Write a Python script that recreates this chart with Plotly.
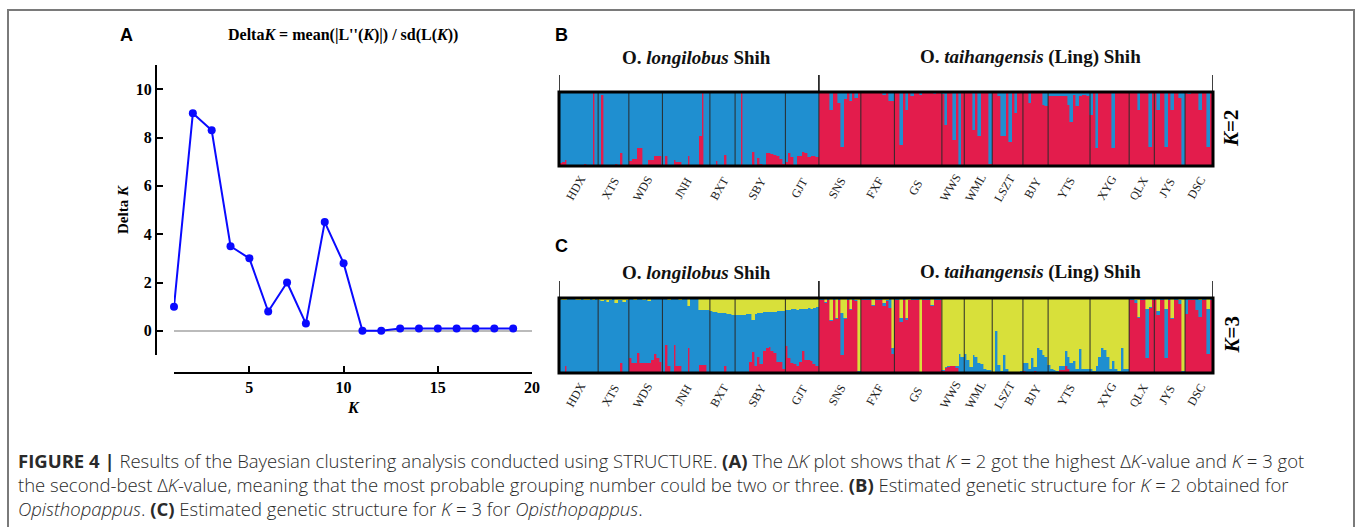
import plotly.graph_objects as go

W, H = 1358, 527

# ---------------- Panel A data ----------------
K_VALUES = list(range(1, 20))
DELTA_K = [1.0, 9.0, 8.3, 3.5, 3.0, 0.8, 2.0, 0.3, 4.5, 2.8,
           0.0, 0.0, 0.1, 0.1, 0.1, 0.1, 0.1, 0.1, 0.1]

# ---------------- Populations ----------------
POPS_LONG = ["HDX", "XTS", "WDS", "JNH", "BXT", "SBY", "GJT"]
POPS_TAI = ["SNS", "FXF", "GS", "WWS", "WML", "LSZT", "BJY", "YTS", "XYG", "QLX", "JYS", "DSC"]

# ---------------- K = 2 ----------------
# O. longilobus: share of the red cluster per individual (rest blue)
K2_RED_HDX = [0.04, 0.06, 0.08, 0.02, 0.02, 0.02, 0.01, 0.01, 0.02, 0.03, 0.02, 0.01, 0.99, 0.01]
K2_RED_XTS = [0.01, 0.96, 0.01, 0.01, 0.01, 0.01, 0.03, 0.02, 0.17, 0.02, 0.01]
K2_RED_WDS = [0.07, 0.1, 0.1, 0.25, 0.24, 0.02, 0.01, 0.08, 0.08, 0.14, 0.14, 0.14]
K2_RED_JNH = [0.02, 0.14, 0.01, 0.01, 0.08, 0.05, 0.06, 0.01, 0.01, 0.13, 0.01, 0.01, 0.01, 0.41, 0.99, 0.01, 0.01]
K2_RED_BXT = [0.01, 0.01, 0.07, 0.01, 0.01, 0.15, 0.01, 0.01, 0.01]
K2_RED_SBY = [0.01, 0.01, 0.99, 0.01, 0.01, 0.01, 0.19, 0.02, 0.11, 0.03, 0.02, 0.17, 0.18, 0.16, 0.15, 0.14, 0.1, 0.03]
K2_RED_GJT = [0.06, 0.17, 0.12, 0.02, 0.13, 0.14, 0.19, 0.17, 0.12, 0.14, 0.13, 0.12]
# O. taihangensis: share of the blue cluster per individual (rest red)
K2_BLUE_SNS = [0.02, 0.01, 0.01, 0.01, 0.24, 0.01, 0.01, 0.15, 0.74, 0.1, 0.01, 0.12, 0.01, 0.08, 0.01]
K2_BLUE_FXF = [0.01, 0.01, 0.01, 0.01, 0.01, 0.01, 0.01, 0.01, 0.04, 0.01, 0.12, 0.12]
K2_BLUE_GS = [0.02, 0.01, 0.72, 0.01, 0.24, 0.01, 0.05, 0.01, 0.01, 0.04, 0.01, 0.01, 0.01, 0.01, 0.03, 0.01, 0.02]
K2_BLUE_WWS = [0.03, 0.44, 0.01, 0.01, 0.65, 0.01, 0.99, 0.02]
K2_BLUE_WML = [0.01, 0.01, 0.01, 0.52, 0.01, 0.59, 0.01, 0.01, 0.02, 0.97]
K2_BLUE_LSZT = [0.01, 0.01, 0.05, 0.59, 0.59, 0.01, 0.67, 0.01, 0.28, 0.01, 0.01]
K2_BLUE_BJY = [0.01, 0.01, 0.15, 0.01, 0.01, 0.01, 0.01, 0.18, 0.19]
K2_BLUE_YTS = [0.05, 0.06, 0.05, 0.05, 0.05, 0.06, 0.05, 0.17, 0.41, 0.04, 0.19, 0.05, 0.04, 0.04, 0.05]
K2_BLUE_XYG = [0.31, 0.02, 0.75, 0.01, 0.01, 0.01, 0.01, 0.01, 0.75, 0.01, 0.01, 0.01, 0.01, 0.01]
K2_BLUE_QLX = [0.01, 0.01, 0.01, 0.24, 0.01, 0.01, 0.01, 0.74, 0.01]
K2_BLUE_JYS = [0.01, 0.24, 0.01, 0.01, 0.74, 0.01, 0.24, 0.01, 0.01, 0.08, 0.99]
K2_BLUE_DSC = [0.01, 0.03, 0.01, 0.01, 0.01, 0.24, 0.01, 0.01, 0.74, 0.01]

# ---------------- K = 3 ----------------
# blue-major populations: red and yellow shares (rest blue)
K3_RED_HDX = [0.01, 0.01, 0.1, 0.01, 0.01, 0.01, 0.01, 0.01, 0.01, 0.02, 0.01, 0.01, 0.01, 0.01]
K3_YEL_HDX = [0.01, 0.02, 0.03, 0.01, 0.01, 0.01, 0.03, 0.02, 0.01, 0.03, 0.02, 0.01, 0.03, 0.01]
K3_RED_XTS = [0.01, 0.01, 0.01, 0.01, 0.01, 0.01, 0.02, 0.01, 0.14, 0.01, 0.01]
K3_YEL_XTS = [0.02, 0.04, 0.03, 0.05, 0.02, 0.01, 0.06, 0.02, 0.03, 0.05, 0.02]
K3_RED_WDS = [0.2, 0.14, 0.14, 0.27, 0.14, 0.13, 0.13, 0.13, 0.18, 0.26, 0.2, 0.15]
K3_YEL_WDS = [0.01, 0.01, 0.02, 0.01, 0.01, 0.03, 0.01, 0.04, 0.01, 0.01, 0.01, 0.01]
K3_RED_JNH = [0.01, 0.38, 0.1, 0.02, 0.37, 0.1, 0.1, 0.01, 0.01, 0.33, 0.01, 0.01, 0.01, 0.11, 0.11, 0.11, 0.01]
K3_YEL_JNH = [0.01, 0.01, 0.02, 0.01, 0.01, 0.01, 0.02, 0.01, 0.01, 0.1, 0.01, 0.01, 0.01, 0.16, 0.16, 0.16, 0.16]
K3_RED_BXT = [0.01, 0.01, 0.01, 0.01, 0.01, 0.1, 0.01, 0.01, 0.01]
K3_YEL_BXT = [0.17, 0.18, 0.19, 0.2, 0.2, 0.2, 0.21, 0.21, 0.22]
K3_RED_SBY = [0.01, 0.01, 0.01, 0.01, 0.02, 0.15, 0.28, 0.1, 0.22, 0.12, 0.3, 0.33, 0.35, 0.3, 0.27, 0.15, 0.15, 0.05]
K3_YEL_SBY = [0.22, 0.23, 0.22, 0.22, 0.21, 0.21, 0.29, 0.21, 0.2, 0.2, 0.19, 0.19, 0.18, 0.18, 0.18, 0.17, 0.17, 0.17]
K3_RED_GJT = [0.36, 0.2, 0.13, 0.12, 0.1, 0.15, 0.3, 0.18, 0.18, 0.16, 0.12, 0.09]
K3_YEL_GJT = [0.16, 0.16, 0.15, 0.15, 0.16, 0.14, 0.15, 0.15, 0.13, 0.14, 0.13, 0.12]
# red-major populations: blue and yellow shares (rest red)
K3_BLUE_SNS = [0.01, 0.01, 0.01, 0.01, 0.01, 0.01, 0.01, 0.01, 0.56, 0.01, 0.01, 0.01, 0.01, 0.01, 0.01]
K3_YEL_SNS = [0.01, 0.01, 0.05, 0.01, 0.29, 0.01, 0.27, 0.01, 0.2, 0.27, 0.01, 0.15, 0.01, 0.03, 0.97]
K3_BLUE_FXF = [0.01, 0.01, 0.01, 0.01, 0.01, 0.01, 0.01, 0.01, 0.05, 0.02, 0.12, 0.07]
K3_YEL_FXF = [0.01, 0.01, 0.01, 0.01, 0.09, 0.01, 0.01, 0.01, 0.06, 0.02, 0.01, 0.67]
K3_BLUE_GS = [0.01, 0.01, 0.05, 0.01, 0.02, 0.01, 0.01, 0.01, 0.01, 0.01, 0.01, 0.01, 0.01, 0.01, 0.01, 0.01, 0.01]
K3_YEL_GS = [0.01, 0.01, 0.27, 0.01, 0.27, 0.02, 0.01, 0.01, 0.01, 0.98, 0.01, 0.01, 0.01, 0.09, 0.01, 0.01, 0.01]
K3_BLUE_QLX = [0.01, 0.01, 0.05, 0.02, 0.01, 0.01, 0.65, 0.01, 0.01]
K3_YEL_QLX = [0.01, 0.01, 0.02, 0.25, 0.01, 0.01, 0.15, 0.12, 0.01]
K3_BLUE_JYS = [0.01, 0.05, 0.01, 0.01, 0.65, 0.01, 0.01, 0.01, 0.01, 0.05, 0.01]
K3_YEL_JYS = [0.01, 0.17, 0.01, 0.01, 0.15, 0.01, 0.27, 0.01, 0.01, 0.03, 0.97]
K3_BLUE_DSC = [0.2, 0.01, 0.01, 0.01, 0.15, 0.22, 0.01, 0.01, 0.6, 0.01]
K3_YEL_DSC = [0.01, 0.01, 0.01, 0.01, 0.01, 0.03, 0.01, 0.01, 0.15, 0.01]
# yellow-major populations: red and blue shares (rest yellow)
K3_RED_WWS = [0.03, 0.07, 0.08, 0.09, 0.09, 0.07, 0.01, 0.01]
K3_BLUE_WWS = [0.01, 0.01, 0.01, 0.01, 0.01, 0.03, 0.25, 0.2]
K3_RED_WML = [0.01, 0.01, 0.01, 0.01, 0.02, 0.01, 0.01, 0.01, 0.01, 0.01]
K3_BLUE_WML = [0.24, 0.16, 0.07, 0.23, 0.2, 0.12, 0.11, 0.04, 0.03, 0.03]
K3_RED_LSZT = [0.01, 0.01, 0.01, 0.01, 0.01, 0.01, 0.01, 0.01, 0.01, 0.01, 0.01]
K3_BLUE_LSZT = [0.01, 0.55, 0.1, 0.02, 0.23, 0.05, 0.01, 0.01, 0.01, 0.01, 0.02]
K3_RED_BJY = [0.03, 0.01, 0.01, 0.02, 0.03, 0.01, 0.01, 0.01, 0.01]
K3_BLUE_BJY = [0.1, 0.12, 0.05, 0.18, 0.05, 0.32, 0.3, 0.23, 0.2]
K3_RED_YTS = [0.01, 0.01, 0.01, 0.01, 0.04, 0.04, 0.1, 0.06, 0.02, 0.01, 0.01, 0.01, 0.01, 0.02, 0.02]
K3_BLUE_YTS = [0.1, 0.05, 0.03, 0.02, 0.05, 0.05, 0.2, 0.15, 0.12, 0.15, 0.04, 0.31, 0.05, 0.03, 0.03]
K3_RED_XYG = [0.02, 0.01, 0.01, 0.01, 0.01, 0.01, 0.01, 0.01, 0.01, 0.01, 0.01, 0.01, 0.01, 0.01]
K3_BLUE_XYG = [0.03, 0.02, 0.08, 0.2, 0.33, 0.3, 0.2, 0.05, 0.15, 0.05, 0.02, 0.32, 0.05, 0.05]

RED, BLUE, YELLOW = "#e31c4c", "#1f8fd0", "#d8e03a"
SERIF = "Liberation Serif"
SANS = "Liberation Sans"

# ---------------- assemble structure data ----------------
def rest(a, b):
    return [max(0.0, 1.0 - x - y) for x, y in zip(a, b)]

K2_MINOR = {
    "HDX": K2_RED_HDX, "XTS": K2_RED_XTS, "WDS": K2_RED_WDS, "JNH": K2_RED_JNH,
    "BXT": K2_RED_BXT, "SBY": K2_RED_SBY, "GJT": K2_RED_GJT,
    "SNS": K2_BLUE_SNS, "FXF": K2_BLUE_FXF, "GS": K2_BLUE_GS, "WWS": K2_BLUE_WWS,
    "WML": K2_BLUE_WML, "LSZT": K2_BLUE_LSZT, "BJY": K2_BLUE_BJY, "YTS": K2_BLUE_YTS,
    "XYG": K2_BLUE_XYG, "QLX": K2_BLUE_QLX, "JYS": K2_BLUE_JYS, "DSC": K2_BLUE_DSC,
}

K3_PARTS = {  # (red, blue, yellow) lists; None = remainder
    "HDX": (K3_RED_HDX, None, K3_YEL_HDX), "XTS": (K3_RED_XTS, None, K3_YEL_XTS),
    "WDS": (K3_RED_WDS, None, K3_YEL_WDS), "JNH": (K3_RED_JNH, None, K3_YEL_JNH),
    "BXT": (K3_RED_BXT, None, K3_YEL_BXT), "SBY": (K3_RED_SBY, None, K3_YEL_SBY),
    "GJT": (K3_RED_GJT, None, K3_YEL_GJT),
    "SNS": (None, K3_BLUE_SNS, K3_YEL_SNS), "FXF": (None, K3_BLUE_FXF, K3_YEL_FXF),
    "GS": (None, K3_BLUE_GS, K3_YEL_GS),
    "WWS": (K3_RED_WWS, K3_BLUE_WWS, None), "WML": (K3_RED_WML, K3_BLUE_WML, None),
    "LSZT": (K3_RED_LSZT, K3_BLUE_LSZT, None), "BJY": (K3_RED_BJY, K3_BLUE_BJY, None),
    "YTS": (K3_RED_YTS, K3_BLUE_YTS, None), "XYG": (K3_RED_XYG, K3_BLUE_XYG, None),
    "QLX": (None, K3_BLUE_QLX, K3_YEL_QLX), "JYS": (None, K3_BLUE_JYS, K3_YEL_JYS),
    "DSC": (None, K3_BLUE_DSC, K3_YEL_DSC),
}

ALL_POPS = POPS_LONG + POPS_TAI
k2_red, k2_blue = [], []
k3_red, k3_blue, k3_yel = [], [], []
bounds, centers = [0], []
for p in ALL_POPS:
    v = K2_MINOR[p]
    if p in POPS_LONG:
        k2_red += v
        k2_blue += [1 - x for x in v]
    else:
        k2_blue += v
        k2_red += [1 - x for x in v]
    r, b, y = K3_PARTS[p]
    if r is None:
        r = rest(b, y)
    elif b is None:
        b = rest(r, y)
    else:
        y = rest(r, b)
    k3_red += r
    k3_blue += b
    k3_yel += y
    centers.append(bounds[-1] + len(v) / 2 - 0.5)
    bounds.append(bounds[-1] + len(v))
N = bounds[-1]
IDX = list(range(N))
SPECIES_SPLIT = bounds[len(POPS_LONG)]

fig = go.Figure()

# ---------------- Panel A ----------------
fig.add_trace(go.Scatter(
    x=K_VALUES, y=DELTA_K, mode="lines+markers", xaxis="x", yaxis="y",
    line=dict(color="#0a0aff", width=2), marker=dict(color="#0a0aff", size=8),
    cliponaxis=False, showlegend=False))

# ---------------- Panels B and C ----------------
def bar(xa, ya, vals, color):
    return go.Bar(x=IDX, y=vals, xaxis=xa, yaxis=ya, width=1,
                  marker=dict(color=color, line=dict(color=color, width=0.6)),
                  showlegend=False)

fig.add_trace(bar("x2", "y2", k2_red, RED))
fig.add_trace(bar("x2", "y2", k2_blue, BLUE))
fig.add_trace(bar("x3", "y3", k3_red, RED))
fig.add_trace(bar("x3", "y3", k3_blue, BLUE))
fig.add_trace(bar("x3", "y3", k3_yel, YELLOW))

def px_x(v):
    return v / W

def px_y(v):
    return 1 - v / H

B_TOP, B_BOT = 92, 166
C_TOP, C_BOT = 298, 373
X_L, X_R = 559, 1213

hidden = dict(showticklabels=False, showgrid=False, zeroline=False, showline=False,
              ticks="", fixedrange=True)

layout = dict(
    width=W, height=H, template="none",
    margin=dict(l=0, r=0, t=0, b=0),
    paper_bgcolor="white", plot_bgcolor="rgba(0,0,0,0)",
    barmode="stack", bargap=0, showlegend=False,
    xaxis=dict(domain=[px_x(174), px_x(532)], range=[1, 20], anchor="free",
               position=px_y(373), showline=True, linecolor="black", linewidth=2,
               ticks="inside", ticklen=6, tickwidth=2, tickcolor="black",
               tickvals=[5, 10, 15, 20], showgrid=False, zeroline=False,
               tickfont=dict(family=SERIF, size=16, color="black", weight="bold"),
               automargin=False),
    yaxis=dict(domain=[px_y(355), px_y(65)], range=[-1, 11], anchor="free",
               position=px_x(156), showline=True, linecolor="black", linewidth=2,
               ticks="inside", ticklen=6, tickwidth=2, tickcolor="black",
               tickvals=[0, 2, 4, 6, 8, 10], showgrid=False, zeroline=True,
               zerolinecolor="#bbbbbb", zerolinewidth=2,
               tickfont=dict(family=SERIF, size=16, color="black", weight="bold"),
               automargin=False),
    xaxis2=dict(domain=[px_x(X_L), px_x(X_R)], range=[-0.5, N - 0.5], anchor="y2", **hidden),
    yaxis2=dict(domain=[px_y(B_BOT), px_y(B_TOP)], range=[0, 1], anchor="x2", **hidden),
    xaxis3=dict(domain=[px_x(X_L), px_x(X_R)], range=[-0.5, N - 0.5], anchor="y3", **hidden),
    yaxis3=dict(domain=[px_y(C_BOT), px_y(C_TOP)], range=[0, 1], anchor="x3", **hidden),
)
fig.update_layout(**layout)

shapes = []
# outer figure border
shapes.append(dict(type="rect", xref="paper", yref="paper",
                   x0=px_x(8), x1=px_x(1354), y0=-0.05, y1=px_y(10),
                   line=dict(color="#7a7a7a", width=2)))
annotations = []

def note(x, y, text, size, family=SERIF, angle=0, color="black", xref="paper", yref="paper"):
    annotations.append(dict(xref=xref, yref=yref, x=x, y=y, text=text, textangle=angle,
                            showarrow=False, xanchor="center", yanchor="middle",
                            font=dict(family=family, size=size, color=color)))

for xa, ya, top, bot, ktxt, sp_y in (("x2", "y2", B_TOP, B_BOT, "2", 57),
                                     ("x3", "y3", C_TOP, C_BOT, "3", 272)):
    h = bot - top
    # population dividers
    for b in bounds[1:-1]:
        shapes.append(dict(type="line", xref=xa, yref=f"{ya} domain",
                           x0=b - 0.5, x1=b - 0.5, y0=0, y1=1,
                           line=dict(color="#2a2a2a", width=1)))
    # frame
    shapes.append(dict(type="rect", xref=f"{xa} domain", yref=f"{ya} domain",
                       x0=0, x1=1, y0=0, y1=1, line=dict(color="black", width=3)))
    # species brackets
    for b in (0, SPECIES_SPLIT, N):
        shapes.append(dict(type="line", xref=xa, yref=f"{ya} domain",
                           x0=b - 0.5, x1=b - 0.5, y0=1, y1=1 + 17 / h,
                           line=dict(color="black", width=1.5)))
    # species names
    note(px_x(697), px_y(sp_y), "<b>O. <i>longilobus</i> Shih</b>", 19, color="#111")
    note(px_x(1030), px_y(sp_y), "<b>O. <i>taihangensis</i> (Ling) Shih</b>", 19, color="#111")
    # population labels
    for p, c in zip(ALL_POPS, centers):
        note(c - 1, -(22 / h), p, 12, angle=-60, color="#222", xref=xa, yref=f"{ya} domain")
    # K label
    note(px_x(1231), 0.5, f"<b><i>K</i>={ktxt}</b>", 21, angle=-90, yref=f"{ya} domain")

# Panel A texts
note(px_x(343), px_y(35), "<b>Delta<i>K</i> = mean(|L''(<i>K</i>)|) / sd(L(<i>K</i>))</b>", 16)
note(px_x(123), px_y(210), "<b>Delta <i>K</i></b>", 15, angle=-90)
note(px_x(353), px_y(407), "<b><i>K</i></b>", 16)
# panel letters
for letter, x, y in (("A", 126, 35), ("B", 561, 35), ("C", 561, 246)):
    note(px_x(x), px_y(y), f"<b>{letter}</b>", 18, family=SANS)

# caption
CAPTION = [
    "<b>FIGURE 4 |</b> Results of the Bayesian clustering analysis conducted using STRUCTURE. "
    "<b>(A)</b> The Δ<i>K</i> plot shows that <i>K</i> = 2 got the highest Δ<i>K</i>-value and <i>K</i> = 3 got",
    "the second-best Δ<i>K</i>-value, meaning that the most probable grouping number could be two or three. "
    "<b>(B)</b> Estimated genetic structure for <i>K</i> = 2 obtained for",
    "<i>Opisthopappus</i>. <b>(C)</b> Estimated genetic structure for <i>K</i> = 3 for <i>Opisthopappus</i>.",
]
annotations.append(dict(xref="paper", yref="paper", x=px_x(16), y=px_y(484),
                        xanchor="left", yanchor="middle", align="left",
                        text="<br>".join(CAPTION), showarrow=False,
                        font=dict(family="Open Sans", size=18.5, color="#2a2a2a", weight=300)))

fig.update_layout(shapes=shapes, annotations=annotations)
fig.write_html("out.html")
